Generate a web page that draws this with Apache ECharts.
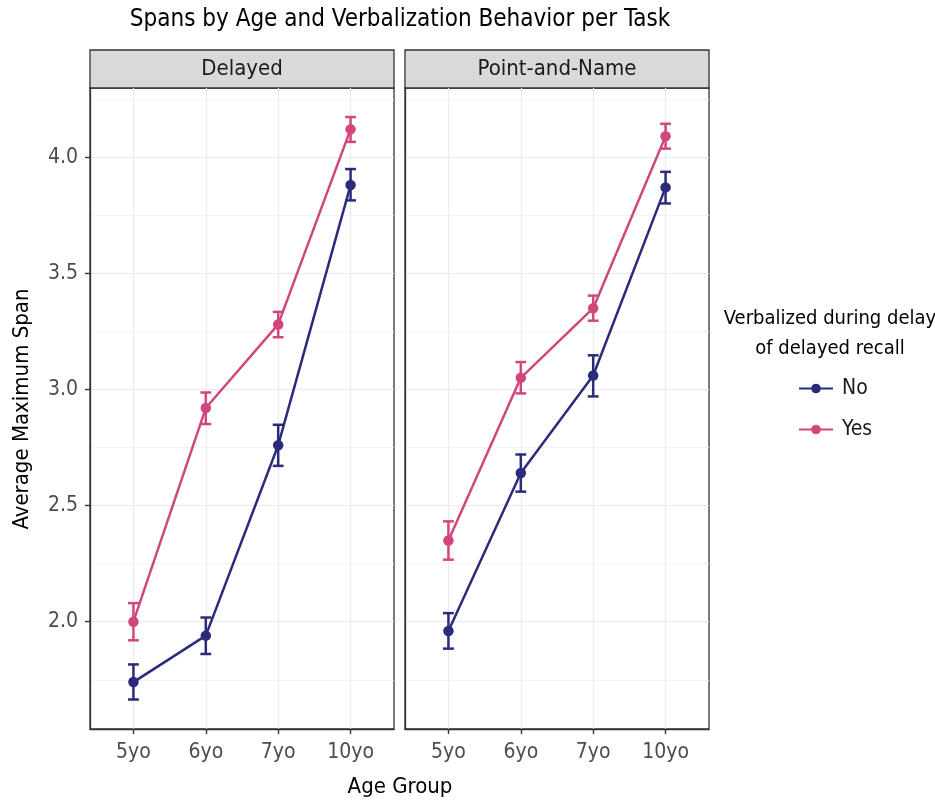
<!DOCTYPE html>
<html>
<head>
<meta charset="utf-8">
<script src="https://cdn.jsdelivr.net/npm/echarts@6/dist/echarts.min.js"></script>
<style>
html,body{margin:0;padding:0;background:#fff;}
#chart{width:935px;height:801px;}
</style>
</head>
<body>
<div id="chart"></div>
<script>
// ---- data ----
const categories = ['5yo', '6yo', '7yo', '10yo'];
const panels = ['Delayed', 'Point-and-Name'];
const groups = ['No', 'Yes'];
// Delayed task
const delayedNoMean = [1.74, 1.94, 2.76, 3.88];
const delayedNoLow  = [1.665, 1.861, 2.671, 3.814];
const delayedNoHigh = [1.816, 2.018, 2.848, 3.949];
const delayedYesMean = [2.00, 2.92, 3.28, 4.12];
const delayedYesLow  = [1.92, 2.851, 3.225, 4.066];
const delayedYesHigh = [2.08, 2.987, 3.334, 4.173];
// Point-and-Name task
const pointNoMean = [1.96, 2.64, 3.06, 3.87];
const pointNoLow  = [1.884, 2.560, 2.970, 3.801];
const pointNoHigh = [2.037, 2.720, 3.147, 3.937];
const pointYesMean = [2.35, 3.05, 3.35, 4.09];
const pointYesLow  = [2.267, 2.983, 3.296, 4.037];
const pointYesHigh = [2.432, 3.118, 3.404, 4.144];
const yTicks = [2.0, 2.5, 3.0, 3.5, 4.0];
const yMinorTicks = [1.75, 2.25, 2.75, 3.25, 3.75, 4.25];

// ---- style ----
const FONT = "'Liberation Sans Narrow', 'DejaVu Sans Condensed', 'Roboto', sans-serif";
const colors = { No: '#2B2B7B', Yes: '#D1477C' };
const yMin = 1.538, yMax = 4.298;
const xMin = -0.6, xMax = 3.6;
const xIdx = categories.map((c, i) => i);

const chart = echarts.init(document.getElementById('chart'), null, { renderer: 'canvas' });

const panelData = [
  { No: [delayedNoMean, delayedNoLow, delayedNoHigh], Yes: [delayedYesMean, delayedYesLow, delayedYesHigh] },
  { No: [pointNoMean, pointNoLow, pointNoHigh], Yes: [pointYesMean, pointYesLow, pointYesHigh] }
];

const gridLeft = [90, 405];
const gridW = 304, gridTop = 88, gridH = 641;

const grids = gridLeft.map(l => ({
  left: l, top: gridTop, width: gridW, height: gridH,
  show: true, borderColor: '#333', borderWidth: 1.3, backgroundColor: '#fff', containLabel: false
}));

// x axes: [labelled, grid-lines] per panel
const xAxes = [];
gridLeft.forEach((l, gi) => {
  xAxes.push({
    type: 'value', gridIndex: gi, min: xMin, max: xMax, position: 'bottom', z: 10,
    axisLine: { show: true, onZero: false, lineStyle: { color: '#333', width: 1.3 } },
    axisTick: { show: true, inside: false, customValues: xIdx, length: 5, lineStyle: { color: '#333', width: 1.4 } },
    axisLabel: { customValues: xIdx, formatter: v => categories[Math.round(v)], fontFamily: FONT, fontSize: 21, color: '#4D4D4D', margin: 13 },
    splitLine: { show: false }
  });
  xAxes.push({
    type: 'value', gridIndex: gi, min: xMin, max: xMax, position: 'top',
    axisLine: { show: false, onZero: false },
    axisTick: { show: false, customValues: xIdx },
    axisLabel: { show: false, customValues: xIdx },
    splitLine: { show: true, lineStyle: { color: '#EBEBEB', width: 1.1 } }
  });
});

// y axes: [labelled, major grid-lines, minor grid-lines] per panel
const yAxes = [];
gridLeft.forEach((l, gi) => {
  yAxes.push({
    type: 'value', gridIndex: gi, min: yMin, max: yMax, position: 'left', z: 10,
    axisLine: { show: true, onZero: false, lineStyle: { color: '#333', width: 1.3 } },
    axisTick: { show: gi === 0, inside: false, customValues: yTicks, length: 5, lineStyle: { color: '#333', width: 1.4 } },
    axisLabel: { show: gi === 0, customValues: yTicks, formatter: v => v.toFixed(1), fontFamily: FONT, fontSize: 21, color: '#4D4D4D', margin: 12 },
    splitLine: { show: false }
  });
  yAxes.push({
    type: 'value', gridIndex: gi, min: yMin, max: yMax, position: 'right',
    axisLine: { show: false, onZero: false },
    axisTick: { show: false, customValues: yTicks },
    axisLabel: { show: false, customValues: yTicks },
    splitLine: { show: true, lineStyle: { color: '#EBEBEB', width: 1.1 } }
  });
  yAxes.push({
    type: 'value', gridIndex: gi, min: yMin, max: yMax, position: 'right',
    axisLine: { show: false, onZero: false },
    axisTick: { show: false, customValues: yMinorTicks },
    axisLabel: { show: false, customValues: yMinorTicks },
    splitLine: { show: true, lineStyle: { color: '#F2F2F2', width: 0.9 } }
  });
});

const series = [];
panelData.forEach((pd, gi) => {
  groups.forEach(g => {
    const [mean, lo, hi] = pd[g];
    series.push({
      name: g + ' error', type: 'custom', xAxisIndex: gi * 2, yAxisIndex: gi * 3,
      data: xIdx.map(i => [i, lo[i], hi[i]]),
      encode: { x: 0, y: [1, 2] },
      z: 3,
      renderItem: (params, api) => {
        const x = api.value(0), l = api.value(1), h = api.value(2);
        const cap = 0.075;
        const pTop = api.coord([x, h]), pBot = api.coord([x, l]);
        const tl = api.coord([x - cap, h]), tr = api.coord([x + cap, h]);
        const bl = api.coord([x - cap, l]), br = api.coord([x + cap, l]);
        const style = { stroke: colors[g], lineWidth: 2.5 };
        return {
          type: 'group', children: [
            { type: 'line', shape: { x1: pTop[0], y1: pTop[1], x2: pBot[0], y2: pBot[1] }, style },
            { type: 'line', shape: { x1: tl[0], y1: tl[1], x2: tr[0], y2: tr[1] }, style },
            { type: 'line', shape: { x1: bl[0], y1: bl[1], x2: br[0], y2: br[1] }, style }
          ]
        };
      }
    });
    series.push({
      name: g, type: 'line', xAxisIndex: gi * 2, yAxisIndex: gi * 3,
      data: xIdx.map(i => [i, mean[i]]),
      symbol: 'circle', symbolSize: 10.5, showSymbol: true,
      lineStyle: { color: colors[g], width: 2.5 },
      itemStyle: { color: colors[g] },
      z: 4, animation: false
    });
  });
});

const graphics = [];
graphics.push({ type: 'text', x: 400, y: 20, style: { text: 'Spans by Age and Verbalization Behavior per Task', font: '24px ' + FONT, fill: '#000', textAlign: 'center', textVerticalAlign: 'middle' } });
gridLeft.forEach((l, gi) => {
  graphics.push({ type: 'rect', shape: { x: l, y: 50, width: gridW, height: 38 }, style: { fill: '#D9D9D9', stroke: '#333', lineWidth: 1.3 } });
  graphics.push({ type: 'text', x: l + gridW / 2, y: 69, style: { text: panels[gi], font: '22px ' + FONT, fill: '#1A1A1A', textAlign: 'center', textVerticalAlign: 'middle' } });
});
graphics.push({ type: 'text', x: 400, y: 787, style: { text: 'Age Group', font: '22px ' + FONT, fill: '#000', textAlign: 'center', textVerticalAlign: 'middle' } });
graphics.push({ type: 'text', x: 22, y: 409, rotation: Math.PI / 2, style: { text: 'Average Maximum Span', font: '22px ' + FONT, fill: '#000', textAlign: 'center', textVerticalAlign: 'middle' } });
graphics.push({ type: 'text', x: 830, y: 319, style: { text: 'Verbalized during delay', font: '20px ' + FONT, fill: '#000', textAlign: 'center', textVerticalAlign: 'middle' } });
graphics.push({ type: 'text', x: 830, y: 349, style: { text: 'of delayed recall', font: '20px ' + FONT, fill: '#000', textAlign: 'center', textVerticalAlign: 'middle' } });

chart.setOption({
  animation: false,
  backgroundColor: '#fff',
  grid: grids,
  xAxis: xAxes,
  yAxis: yAxes,
  legend: {
    data: groups, orient: 'vertical', left: 793, top: 373,
    itemWidth: 34, itemHeight: 12, itemGap: 20,
    textStyle: { fontFamily: FONT, fontSize: 21, color: '#1A1A1A', padding: [0, 0, 0, 4] },
    selectedMode: false
  },
  graphic: graphics,
  series: series
});
</script>
</body>
</html>
